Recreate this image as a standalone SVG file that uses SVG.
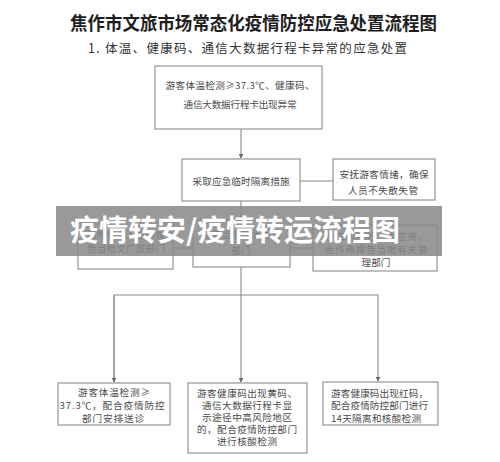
<svg xmlns="http://www.w3.org/2000/svg" width="500" height="462" viewBox="0 0 500 462">
<style>
.box{fill:#fff;stroke:#8a8a8a;stroke-width:1.1}
.ln{fill:none;stroke:#8a8a8a;stroke-width:1.1}
.t{font-family:"Noto Sans CJK SC","Liberation Serif",serif;font-size:9.6px;fill:#4a4a4a;text-anchor:middle}
.tl{font-family:"Noto Sans CJK SC","Liberation Serif",serif;font-size:9.6px;fill:#4a4a4a}
.title{font-family:"Noto Sans CJK SC","Liberation Serif",serif;font-size:18px;font-weight:bold;fill:#1e1e1e}
.sub{font-family:"Noto Sans CJK SC","Liberation Serif",serif;font-size:12.5px;fill:#333}
.ban{font-family:"Noto Sans CJK SC",sans-serif;font-size:29px;font-weight:bold;fill:#fff}
</style>
<defs>
<marker id="ah" viewBox="0 0 10 10" refX="9" refY="5" markerWidth="4" markerHeight="4" orient="auto">
<path d="M0,0 L10,5 L0,10 z" fill="#666"/>
</marker>
</defs>
<rect width="500" height="462" fill="#fff"/>
<text class="title" x="70" y="30" textLength="367" lengthAdjust="spacingAndGlyphs">焦作市文旅市场常态化疫情防控应急处置流程图</text>
<text class="sub" x="88" y="53" textLength="319" lengthAdjust="spacing">1. 体温、健康码、通信大数据行程卡异常的应急处置</text>

<g id="connectors">
<line class="ln" x1="241" y1="129" x2="241" y2="158" marker-end="url(#ah)"/>
<line class="ln" x1="300" y1="181" x2="333" y2="181"/>
<line class="ln" x1="241" y1="201" x2="241" y2="220"/>
<line class="ln" x1="173" y1="248" x2="193" y2="248"/>
<line class="ln" x1="290" y1="248" x2="313" y2="248"/>
<line class="ln" x1="241" y1="267" x2="241" y2="382" marker-end="url(#ah)"/>
<polyline class="ln" points="114,382 114,295 378,295 378,381" marker-end="url(#ah)"/>
<line class="ln" x1="114" y1="295" x2="114" y2="382" marker-end="url(#ah)"/>
</g>

<g id="n1">
<rect class="box" x="155" y="66" width="167" height="63"/>
<text class="t" x="240" y="88.5" textLength="149" lengthAdjust="spacing">游客体温检测≥37.3℃、健康码、</text>
<text class="t" x="240" y="107.5" textLength="113" lengthAdjust="spacing">通信大数据行程卡出现异常</text>
</g>
<g id="n2">
<rect class="box" x="182" y="159" width="118" height="42"/>
<text class="t" x="241" y="184.5" textLength="97" lengthAdjust="spacing">采取应急临时隔离措施</text>
</g>
<g id="n3">
<rect class="box" x="333" y="159" width="102" height="41"/>
<text class="t" x="384" y="177.5" textLength="89" lengthAdjust="spacing">安抚游客情绪，确保</text>
<text class="t" x="383" y="193.5" textLength="70" lengthAdjust="spacing">人员不失散失管</text>
</g>
<g id="n4">
<rect class="box" x="78" y="222" width="95" height="47"/>
<text class="t" x="126" y="237.5" textLength="78" lengthAdjust="spacing">场所负责人立即报</text>
<text class="t" x="126" y="251.5" textLength="78" lengthAdjust="spacing">告当地文广旅部门</text>
</g>
<g id="n5">
<rect class="box" x="193" y="220" width="97" height="47"/>
<text class="t" x="241" y="237.5" textLength="78" lengthAdjust="spacing">报告当地疫情防控</text>
<text class="t" x="241" y="253.5">部门</text>
</g>
<g id="n6">
<rect class="box" x="313" y="225" width="124" height="46"/>
<text class="t" x="376" y="239.5" textLength="103" lengthAdjust="spacing">通知地接社、供应商、</text>
<text class="t" x="376" y="252.5" textLength="103" lengthAdjust="spacing">合作商报告当地有关管</text>
<text class="t" x="376" y="265.5">理部门</text>
</g>
<g id="n7">
<rect class="box" x="58" y="383" width="112" height="42"/>
<text class="t" x="114" y="395.5" textLength="72" lengthAdjust="spacing">游客体温检测≥</text>
<text class="t" x="112" y="408.5" textLength="105" lengthAdjust="spacing">37.3℃，配合疫情防控</text>
<text class="t" x="113" y="421.5" textLength="62" lengthAdjust="spacing">部门安排送诊</text>
</g>
<g id="n8">
<rect class="box" x="188" y="383" width="119" height="70"/>
<text class="t" x="247" y="396.5" textLength="100" lengthAdjust="spacing">游客健康码出现黄码、</text>
<text class="t" x="247" y="408.5" textLength="90" lengthAdjust="spacing">通信大数据行程卡显</text>
<text class="t" x="247" y="420.5" textLength="90" lengthAdjust="spacing">示途径中高风险地区</text>
<text class="t" x="247" y="432.5" textLength="100" lengthAdjust="spacing">的，配合疫情防控部门</text>
<text class="t" x="247" y="444.5" textLength="60" lengthAdjust="spacing">进行核酸检测</text>
</g>
<g id="n9">
<rect class="box" x="323" y="382" width="115" height="43"/>
<text class="tl" x="331" y="396.5" textLength="97" lengthAdjust="spacing">游客健康码出现红码，</text>
<text class="tl" x="331" y="408.5" textLength="97" lengthAdjust="spacing">配合疫情防控部门进行</text>
<text class="tl" x="331" y="421.5" textLength="90" lengthAdjust="spacing">14天隔离和核酸检测</text>
</g>

<g id="banner">
<rect x="56" y="206" width="386" height="50" fill="#888" fill-opacity="0.86"/>
<text class="ban" x="70" y="241" textLength="330" lengthAdjust="spacingAndGlyphs">疫情转安/疫情转运流程图</text>
</g>
</svg>
